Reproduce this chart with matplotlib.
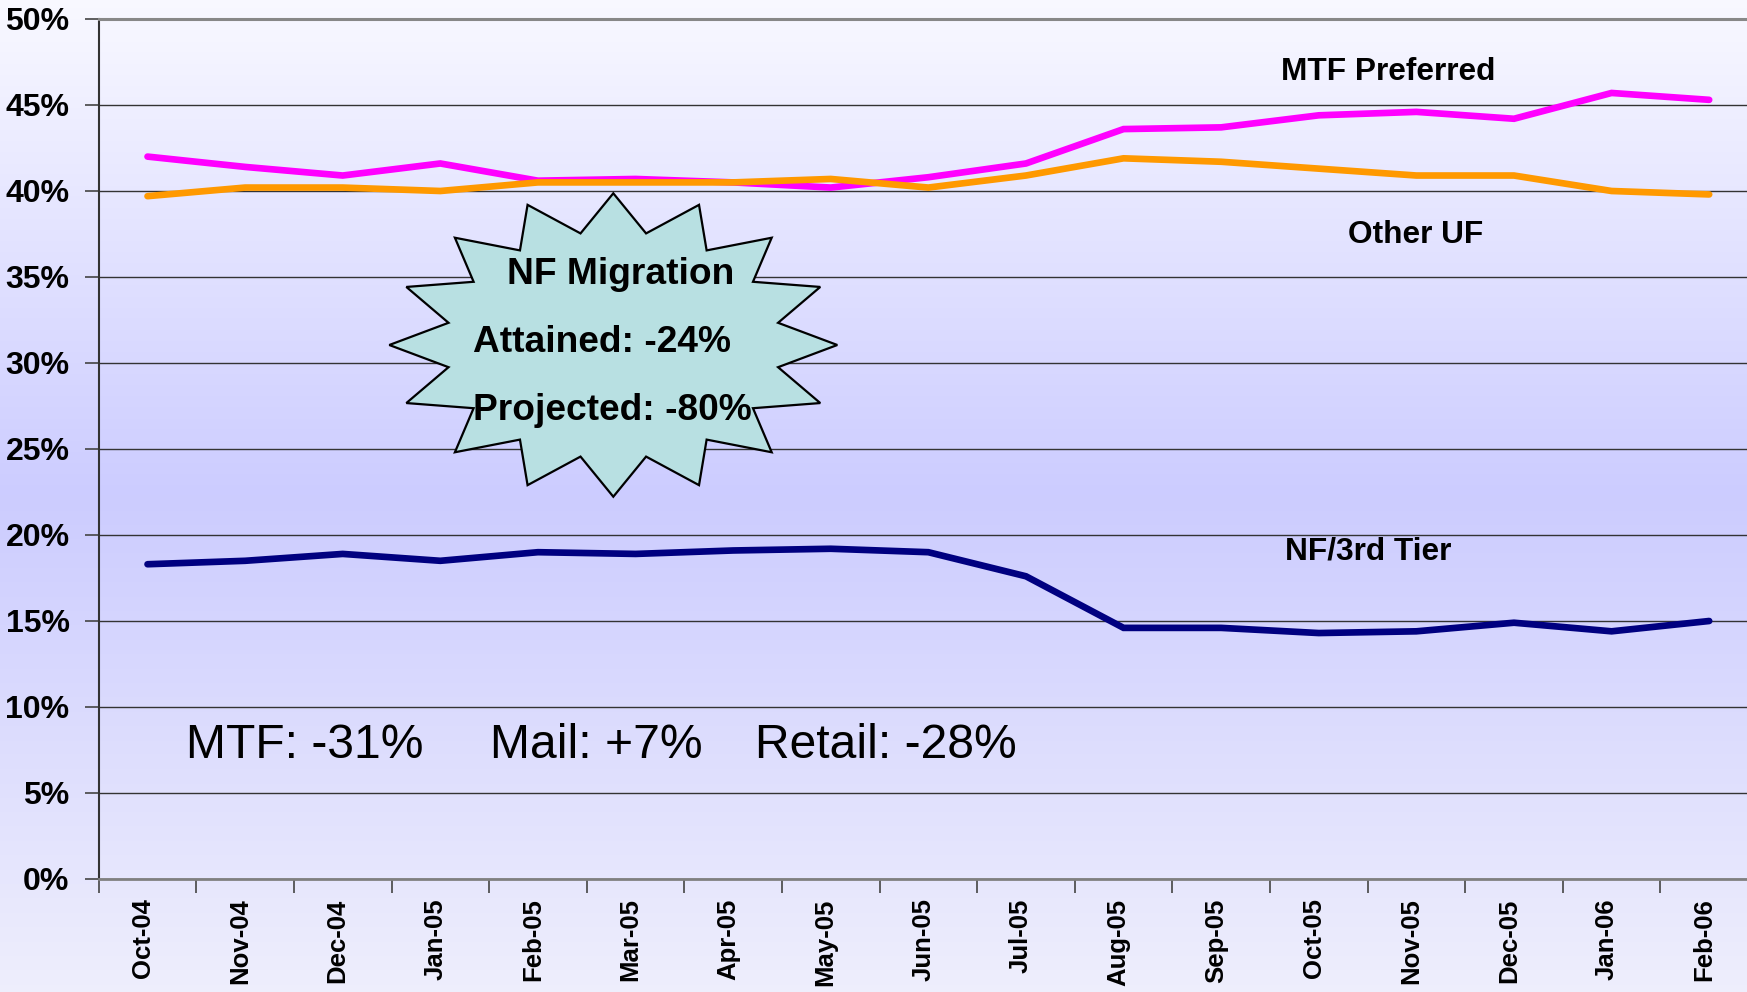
import numpy as np
import matplotlib
matplotlib.use("Agg")
import matplotlib.pyplot as plt
from matplotlib import font_manager
from matplotlib.patches import Polygon
from matplotlib.transforms import ScaledTranslation

# ---------------- data ----------------
months = ["Oct-04", "Nov-04", "Dec-04", "Jan-05", "Feb-05", "Mar-05", "Apr-05",
          "May-05", "Jun-05", "Jul-05", "Aug-05", "Sep-05", "Oct-05", "Nov-05",
          "Dec-05", "Jan-06", "Feb-06"]
mtf_preferred = [42.0, 41.4, 40.9, 41.6, 40.6, 40.7, 40.5, 40.2, 40.8, 41.6,
                 43.6, 43.7, 44.4, 44.6, 44.2, 45.7, 45.3]
other_uf = [39.7, 40.2, 40.2, 40.0, 40.5, 40.5, 40.5, 40.7, 40.2, 40.9,
            41.9, 41.7, 41.3, 40.9, 40.9, 40.0, 39.8]
nf_3rd_tier = [18.3, 18.5, 18.9, 18.5, 19.0, 18.9, 19.1, 19.2, 19.0, 17.6,
               14.6, 14.6, 14.3, 14.4, 14.9, 14.4, 15.0]
y_ticks = [0, 5, 10, 15, 20, 25, 30, 35, 40, 45, 50]
series_labels = ["MTF Preferred", "Other UF", "NF/3rd Tier"]
star_lines = ["NF Migration", "Attained: -24%", "Projected: -80%"]
channel_notes = ["MTF: -31%", "Mail: +7%", "Retail: -28%"]

plt.rcParams['font.family'] = ['Liberation Sans', 'DejaVu Sans']

W, H = 1747, 992
fig = plt.figure(figsize=(W / 100, H / 100), dpi=100)

def fx(px):
    return px / W

def fy(py):
    return 1 - py / H

# background gradient (whole slide)
bg = fig.add_axes([0, 0, 1, 1], zorder=-10)
yy = np.linspace(0, 1, 400)
top = np.array([0.935, 0.935, 0.99])
mid = np.array([0.80, 0.80, 1.0])
bot = np.array([0.975, 0.975, 1.0])
cols = np.where(yy[:, None] < 0.5,
                top + (mid - top) * (yy[:, None] / 0.5),
                mid + (bot - mid) * ((yy[:, None] - 0.5) / 0.5))
grad = np.repeat(cols[:, None, :], 2, axis=1)
bg.imshow(grad, aspect='auto', extent=[0, 1, 0, 1])
bg.set_xlim(0, 1); bg.set_ylim(1, 0)
bg.axis('off')

# main axes
left_px, right_px, top_px, bottom_px = 98.7, 1758, 19, 879
ax = fig.add_axes([fx(left_px), fy(bottom_px), fx(right_px - left_px), (bottom_px - top_px) / H])
ax.patch.set_alpha(0)

x = np.arange(len(months))
lw = 4.8
ax.plot(x, mtf_preferred, color='#FF00FF', lw=lw, solid_capstyle='round', solid_joinstyle='miter', zorder=3)
ax.plot(x, other_uf, color='#FF9900', lw=lw, solid_capstyle='round', solid_joinstyle='miter', zorder=3)
ax.plot(x, nf_3rd_tier, color='#000080', lw=lw, solid_capstyle='round', solid_joinstyle='miter', zorder=3)

ax.set_xlim(-0.5, len(months) - 0.5)
ax.set_ylim(0, 50)
ax.set_yticks(y_ticks)
ax.set_yticklabels([f"{v}%" for v in y_ticks], fontsize=23, fontweight='bold')
ax.yaxis.grid(True, color='#333333', lw=1.0)
ax.set_axisbelow(True)

ax.set_xticks(x)
ax.set_xticklabels(months, rotation=90, fontsize=18.5, fontweight='bold')
ax.set_xticks(np.arange(-0.5, len(months) + 0.5, 1), minor=True)
ax.tick_params(axis='x', which='major', length=0, pad=14)
ax.tick_params(axis='x', which='minor', length=10, width=1.2, color='#444444', direction='out')
ax.tick_params(axis='y', length=10, width=1.2, color='#444444', pad=11, direction='out')
off = ScaledTranslation(-5 / 100, 0, fig.dpi_scale_trans)
for lab in ax.get_xticklabels():
    lab.set_transform(lab.get_transform() + off)

ax.spines['right'].set_visible(False)
ax.spines['top'].set_color('#888888')
ax.spines['top'].set_linewidth(2.2)
ax.spines['left'].set_color('#333333')
ax.spines['left'].set_linewidth(1.5)
ax.spines['bottom'].set_color('#808080')
ax.spines['bottom'].set_linewidth(2.0)

# series labels
lab_kw = dict(transform=fig.transFigure, fontsize=22.8, fontweight='bold',
              ha='center', va='center', color='black')
fig.text(fx(1388), fy(72), series_labels[0], **lab_kw)
fig.text(fx(1416), fy(235), series_labels[1], **lab_kw)
fig.text(fx(1368), fy(551), series_labels[2], **lab_kw)

# 16-point star
cx, cy = 613.3, 345.0
rx, ry = 224.0, 151.7
n = 16
verts = []
for i in range(2 * n):
    ang = np.pi / 2 - i * np.pi / n
    r = 1.0 if i % 2 == 0 else 0.75
    px = cx + r * rx * np.cos(ang)
    py = cy - r * ry * np.sin(ang)
    verts.append((fx(px), fy(py)))
star = Polygon(verts, closed=True, transform=fig.transFigure, facecolor='#B8E0E2',
               edgecolor='black', lw=1.6, zorder=5)
fig.patches.append(star)

star_kw = dict(transform=fig.transFigure, fontsize=26.7, fontweight='bold', va='center',
               color='black', zorder=6)
fig.text(fx(621), fy(275), star_lines[0], ha='center', **star_kw)
fig.text(fx(473), fy(342), star_lines[1], ha='left', **star_kw)
fig.text(fx(473), fy(410), star_lines[2], ha='left', **star_kw)

# channel notes
names = {f.name for f in font_manager.fontManager.ttflist}
if 'Liberation Sans Narrow' in names:
    note_kw = dict(family=['Liberation Sans Narrow', 'DejaVu Sans'], fontsize=40)
else:
    note_kw = dict(family=['Liberation Sans', 'DejaVu Sans'], fontsize=34.6)
for xp, t in zip([186, 490, 755], channel_notes):
    fig.text(fx(xp), fy(745), t, transform=fig.transFigure, ha='left', va='center',
             color='black', **note_kw)

fig.savefig("out.png", dpi=100)
